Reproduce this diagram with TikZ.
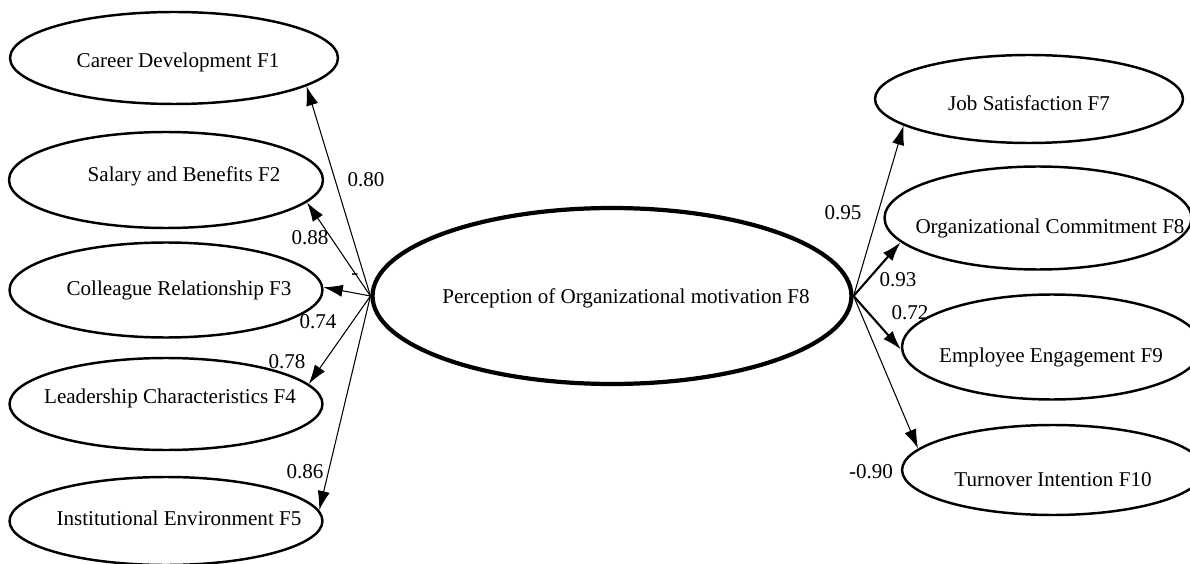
\documentclass[tikz,border=0pt]{standalone}
\usepackage{fontspec}
\setmainfont{Liberation Serif}
\usetikzlibrary{shapes.geometric,arrows.meta}

\tikzset{
  factor/.style={draw, ellipse, line width=1.4pt, inner sep=0pt},
  core/.style={draw, ellipse, line width=2.4pt, inner sep=0pt},
  txt/.style={inner sep=0pt},
  load/.style={-{Latex[length=11pt,width=7pt]}, line width=0.6pt},
  heavyload/.style={load, line width=1.2pt}
}

\begin{document}
\begin{tikzpicture}[x=0.02cm,y=-0.02cm,font=\fontsize{12pt}{14pt}\selectfont]
\useasboundingbox (0,0) rectangle (1190,564);
\fill[white] (0,0) rectangle (1190,564);

% central factor
\node[core,minimum width=9.58cm,minimum height=3.52cm] (PO) at (612,296) {};
\node[txt] (POt) at (626,298) {Perception of Organizational motivation F8};

% left side
\node[factor,minimum width=6.56cm,minimum height=1.84cm] (F1) at (174,58) {};
\node[txt] (F1t) at (178,62) {Career Development F1};
\node[factor,minimum width=6.28cm,minimum height=1.92cm] (F2) at (166,180) {};
\node[txt] (F2t) at (184,176) {Salary and Benefits F2};
\node[factor,minimum width=6.26cm,minimum height=1.90cm] (F3) at (166,290) {};
\node[txt] (F3t) at (179,290) {Colleague Relationship F3};
\node[factor,minimum width=6.26cm,minimum height=1.84cm] (F4) at (166,404) {};
\node[txt] (F4t) at (170,398) {Leadership Characteristics F4};
\node[factor,minimum width=6.26cm,minimum height=1.76cm] (F5) at (166,521) {};
\node[txt] (F5t) at (179,518) {Institutional Environment F5};

% right side
\node[factor,minimum width=6.16cm,minimum height=1.76cm] (F7) at (1029,99) {};
\node[txt] (F7t) at (1029,103) {Job Satisfaction F7};
\node[factor,minimum width=6.14cm,minimum height=2.06cm] (F8) at (1038,218) {};
\node[txt] (F8t) at (1050,228) {Organizational Commitment F8};
\node[factor,minimum width=6.0cm,minimum height=2.10cm] (F9) at (1052,347) {};
\node[txt] (F9t) at (1051,357) {Employee Engagement F9};
\node[factor,minimum width=6.04cm,minimum height=1.80cm] (F10) at (1053,470) {};
\node[txt] (F10t) at (1053,480) {Turnover Intention F10};

% loadings
\draw[load] (PO.west) -- (F1.-12);
\draw[load] (PO.west) -- (F2.-9);
\draw[load] (PO.west) -- (F3.1);
\draw[load] (PO.west) -- (F4.8);
\draw[load] (PO.west) -- (F5.4);

\draw[load] (PO.east) -- (F7.192);
\draw[heavyload] (PO.east) -- (F8.190);
\draw[heavyload] (PO.east) -- (F9.181);
\draw[load] (PO.east) -- (F10.171);

\node[txt] (l1) at (366,180) {0.80};
\node[txt] (l2) at (310,238) {0.88};
\node[txt] (l3) at (355,277) {-};
\node[txt] (l4) at (318,322) {0.74};
\node[txt] (l5) at (287,362) {0.78};
\node[txt] (l6) at (305,472) {0.86};
\node[txt] (r1) at (843,213) {0.95};
\node[txt] (r2) at (898,280) {0.93};
\node[txt] (r3) at (910,313) {0.72};
\node[txt] (r4) at (871,472) {-0.90};
\end{tikzpicture}
\end{document}
